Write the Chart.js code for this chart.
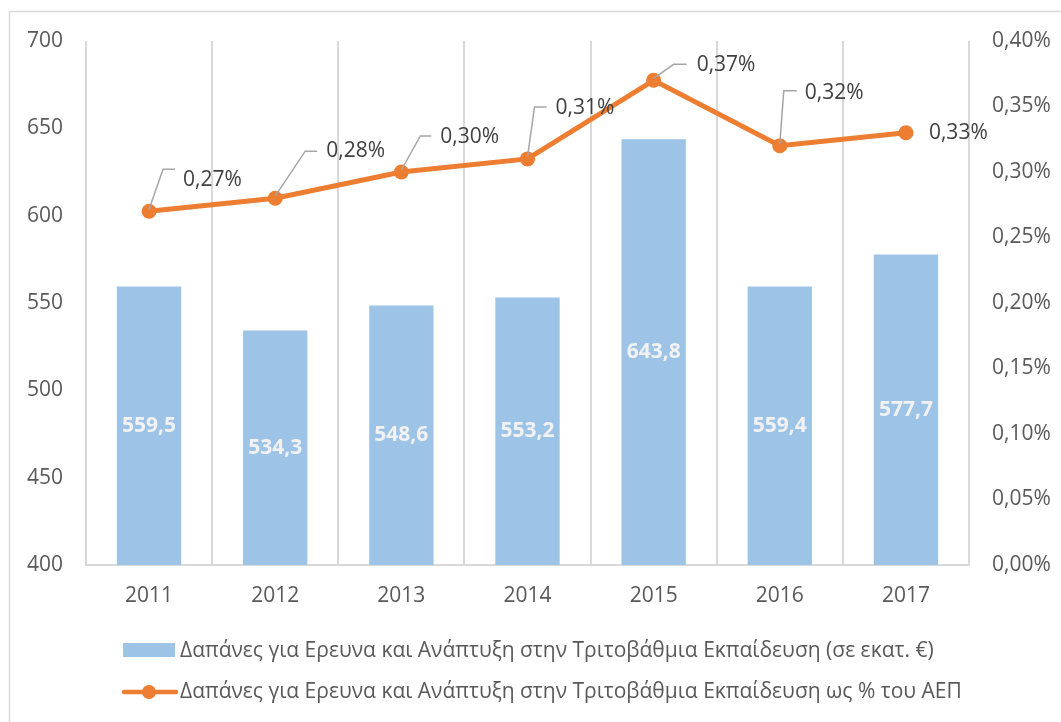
<!DOCTYPE html>
<html lang="el">
<head>
<meta charset="utf-8">
<title>Δαπάνες για Έρευνα και Ανάπτυξη στην Τριτοβάθμια Εκπαίδευση</title>
<script src="https://cdn.jsdelivr.net/npm/chart.js@4/dist/chart.umd.min.js"></script>
<style>
  html, body { margin: 0; padding: 0; background: #ffffff; }
  #wrap { position: relative; width: 1061px; height: 722px; }
  canvas { display: block; }
</style>
</head>
<body>
<div id="wrap"><canvas id="chart" width="1061" height="722"></canvas></div>
<script>
// Years on the horizontal axis
const years = ['2011', '2012', '2013', '2014', '2015', '2016', '2017'];
// R&D spending in tertiary education, million €
const spendingMillions = [559.5, 534.3, 548.6, 553.2, 643.8, 559.4, 577.7];
// The same spending as a share of GDP, %
const spendingPctGdp = [0.27, 0.28, 0.30, 0.31, 0.37, 0.32, 0.33];
// Series names shown in the legend
const seriesNames = [
  'Δαπάνες για Ερευνα και Ανάπτυξη στην Τριτοβάθμια Εκπαίδευση (σε εκατ. €)',
  'Δαπάνες για Ερευνα και Ανάπτυξη στην Τριτοβάθμια Εκπαίδευση ως % του ΑΕΠ'
];
// Axis ranges and steps
const leftAxis = { min: 400, max: 700, step: 50 };
const rightAxis = { min: 0, max: 0.40, step: 0.05 };

// Callout placement for the percentage labels (pixel offsets from each point):
// text = left/middle of the text, elbow = bend of the leader, end = x of the leader's end
const calloutOffsets = [
  { text: [34, -31], elbow: [14, -42], end: 26 },
  { text: [51, -47], elbow: [30, -47], end: 42 },
  { text: [39, -35], elbow: [19, -36], end: 30 },
  { text: [28, -51], elbow: [7, -52], end: 19 },
  { text: [43, -15], elbow: [20, -16], end: 33 },
  { text: [25, -53], elbow: [4, -55], end: 17 },
  { text: [23, 0], elbow: null, end: null }
];

const FONT = '"Open Sans", "DejaVu Sans", sans-serif';
const BAR_COLOR = '#9DC3E6';
const LINE_COLOR = '#ED7D31';
const TEXT_COLOR = '#595959';
const LABEL_COLOR = '#404040';
const GRID_COLOR = '#D9D9D9';

const fmtComma = (v, d) => v.toFixed(d).replace('.', ',');

// Outer frame, bar values, percentage callouts and the legend
const decorations = {
  id: 'decorations',
  beforeDraw(chart) {
    const ctx = chart.ctx;
    ctx.save();
    ctx.fillStyle = '#ffffff';
    ctx.fillRect(0, 0, chart.width, chart.height);
    ctx.strokeStyle = GRID_COLOR;
    ctx.lineWidth = 1.5;
    ctx.strokeRect(9.5, 11.5, chart.width + 20, chart.height + 20);
    ctx.restore();
  },
  afterDatasetsDraw(chart) {
    const ctx = chart.ctx;
    const area = chart.chartArea;
    ctx.save();

    // values inside the bars, centred on the visible part of each bar
    const barMeta = chart.getDatasetMeta(0);
    ctx.font = 'bold 21px ' + FONT;
    ctx.fillStyle = '#F2F2F2';
    ctx.textAlign = 'center';
    ctx.textBaseline = 'middle';
    barMeta.data.forEach((bar, i) => {
      const bottom = Math.min(bar.base, area.bottom);
      const cy = (bar.y + bottom) / 2;
      ctx.fillText(fmtComma(spendingMillions[i], 1), bar.x, cy);
    });

    // percentage callouts with leader lines
    const lineMeta = chart.getDatasetMeta(1);
    ctx.font = '21px ' + FONT;
    ctx.fillStyle = LABEL_COLOR;
    ctx.textAlign = 'left';
    ctx.strokeStyle = '#A6A6A6';
    ctx.lineWidth = 1.5;
    lineMeta.data.forEach((pt, i) => {
      const o = calloutOffsets[i];
      if (o.elbow) {
        ctx.beginPath();
        ctx.moveTo(pt.x, pt.y - 2);
        ctx.lineTo(pt.x + o.elbow[0], pt.y + o.elbow[1]);
        ctx.lineTo(pt.x + o.end, pt.y + o.elbow[1]);
        ctx.stroke();
      }
      ctx.fillText(fmtComma(spendingPctGdp[i], 2) + '%', pt.x + o.text[0], pt.y + o.text[1]);
    });
    ctx.restore();
  },
  afterDraw(chart) {
    const ctx = chart.ctx;
    ctx.save();
    ctx.font = '21px ' + FONT;
    ctx.textAlign = 'left';
    ctx.textBaseline = 'middle';

    // bar series entry
    ctx.fillStyle = BAR_COLOR;
    ctx.fillRect(123, 643, 52, 14);
    ctx.fillStyle = TEXT_COLOR;
    ctx.fillText(seriesNames[0], 180, 651);

    // line series entry
    ctx.strokeStyle = LINE_COLOR;
    ctx.lineWidth = 4.5;
    ctx.lineCap = 'round';
    ctx.beginPath();
    ctx.moveTo(124, 692);
    ctx.lineTo(176, 692);
    ctx.stroke();
    ctx.fillStyle = LINE_COLOR;
    ctx.beginPath();
    ctx.arc(149, 692, 7, 0, Math.PI * 2);
    ctx.fill();
    ctx.fillStyle = TEXT_COLOR;
    ctx.fillText(seriesNames[1], 180, 692);
    ctx.restore();
  }
};

new Chart(document.getElementById('chart'), {
  data: {
    labels: years,
    datasets: [
      {
        type: 'bar',
        label: seriesNames[0],
        data: spendingMillions,
        backgroundColor: BAR_COLOR,
        borderWidth: 0,
        barPercentage: 0.51,
        categoryPercentage: 1.0,
        yAxisID: 'y',
        order: 2
      },
      {
        type: 'line',
        label: seriesNames[1],
        data: spendingPctGdp,
        borderColor: LINE_COLOR,
        backgroundColor: LINE_COLOR,
        borderWidth: 5,
        pointRadius: 7.5,
        pointHoverRadius: 7.5,
        pointBackgroundColor: LINE_COLOR,
        pointBorderWidth: 0,
        tension: 0,
        yAxisID: 'y1',
        order: 1
      }
    ]
  },
  options: {
    responsive: false,
    animation: false,
    events: [],
    layout: { padding: { top: 41, left: 0, right: 0, bottom: 0 } },
    plugins: {
      legend: { display: false },
      tooltip: { enabled: false },
      title: { display: false }
    },
    scales: {
      x: {
        offset: true,
        grid: {
          offset: true,
          color: GRID_COLOR,
          lineWidth: 2,
          drawTicks: false
        },
        border: { color: GRID_COLOR, width: 2 },
        ticks: {
          color: TEXT_COLOR,
          font: { family: FONT, size: 21 },
          padding: 18,
          maxRotation: 0
        },
        afterFit(scale) { scale.height = 157; }
      },
      y: {
        position: 'left',
        min: leftAxis.min,
        max: leftAxis.max,
        grid: { display: false, drawTicks: false },
        border: { display: false },
        ticks: {
          stepSize: leftAxis.step,
          color: TEXT_COLOR,
          font: { family: FONT, size: 21 },
          padding: 23
        },
        afterFit(scale) { scale.width = 86; }
      },
      y1: {
        position: 'right',
        min: rightAxis.min,
        max: rightAxis.max,
        grid: { display: false, drawTicks: false },
        border: { display: false },
        ticks: {
          stepSize: rightAxis.step,
          color: TEXT_COLOR,
          font: { family: FONT, size: 21 },
          padding: 23,
          callback: (v) => fmtComma(v, 2) + '%'
        },
        afterFit(scale) { scale.width = 92; }
      }
    }
  },
  plugins: [decorations]
});
</script>
</body>
</html>
